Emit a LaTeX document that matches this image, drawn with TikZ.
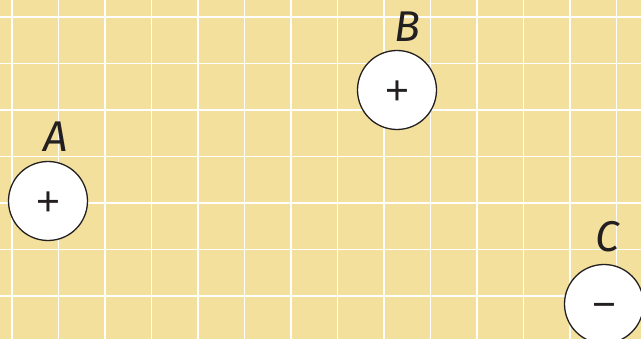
\documentclass[tikz,border=0pt]{standalone}
\usepackage{fontspec}
\setmainfont{Fira Sans}
\newfontfamily\signfont{Liberation Sans}
\usepackage{xcolor}
\definecolor{PadYellow}{HTML}{F2E09C}
\definecolor{GridWhite}{HTML}{FFFFFF}
\definecolor{InkDark}{HTML}{231F20}
\usetikzlibrary{positioning}
\tikzset{
  chg/.style={circle,draw=InkDark,fill=white,line width=1.3pt,minimum size=79pt,
    inner sep=0pt,text height=29.8pt,text depth=0pt,
    font=\signfont\fontsize{41}{41}\selectfont,text=InkDark},
  tag/.style={font=\itshape\fontsize{43}{43}\selectfont,text=InkDark,inner sep=1pt},
  grd/.style={draw=GridWhite,line width=1.4pt},
}
\begin{document}
\begin{tikzpicture}[x=1pt,y=-1pt,node distance=8pt]
\useasboundingbox (0,0) rectangle (641,339);
\clip (0,0) rectangle (641,339);
\fill[PadYellow] (0,0) rectangle (641,339);

% grid
\foreach \i in {0,...,13}
  \draw[grd] (12+46.5*\i,0) -- (12+46.5*\i,339);
\foreach \j in {0,...,6}
  \draw[grd] (0,17+46.5*\j) -- (641,17+46.5*\j);

% charges
\node[chg] (qA) at (48,201) {+};
\node[chg] (qB) at (397,90) {+};
\node[chg] (qC) at (604,304) {−};

\node[tag,above=8pt of qA,xshift=8pt] (lA) {A};
\node[tag,above=7pt of qB,xshift=10pt] (lB) {B};
\node[tag,above=11pt of qC,xshift=3pt] (lC) {C};
\end{tikzpicture}
\end{document}
